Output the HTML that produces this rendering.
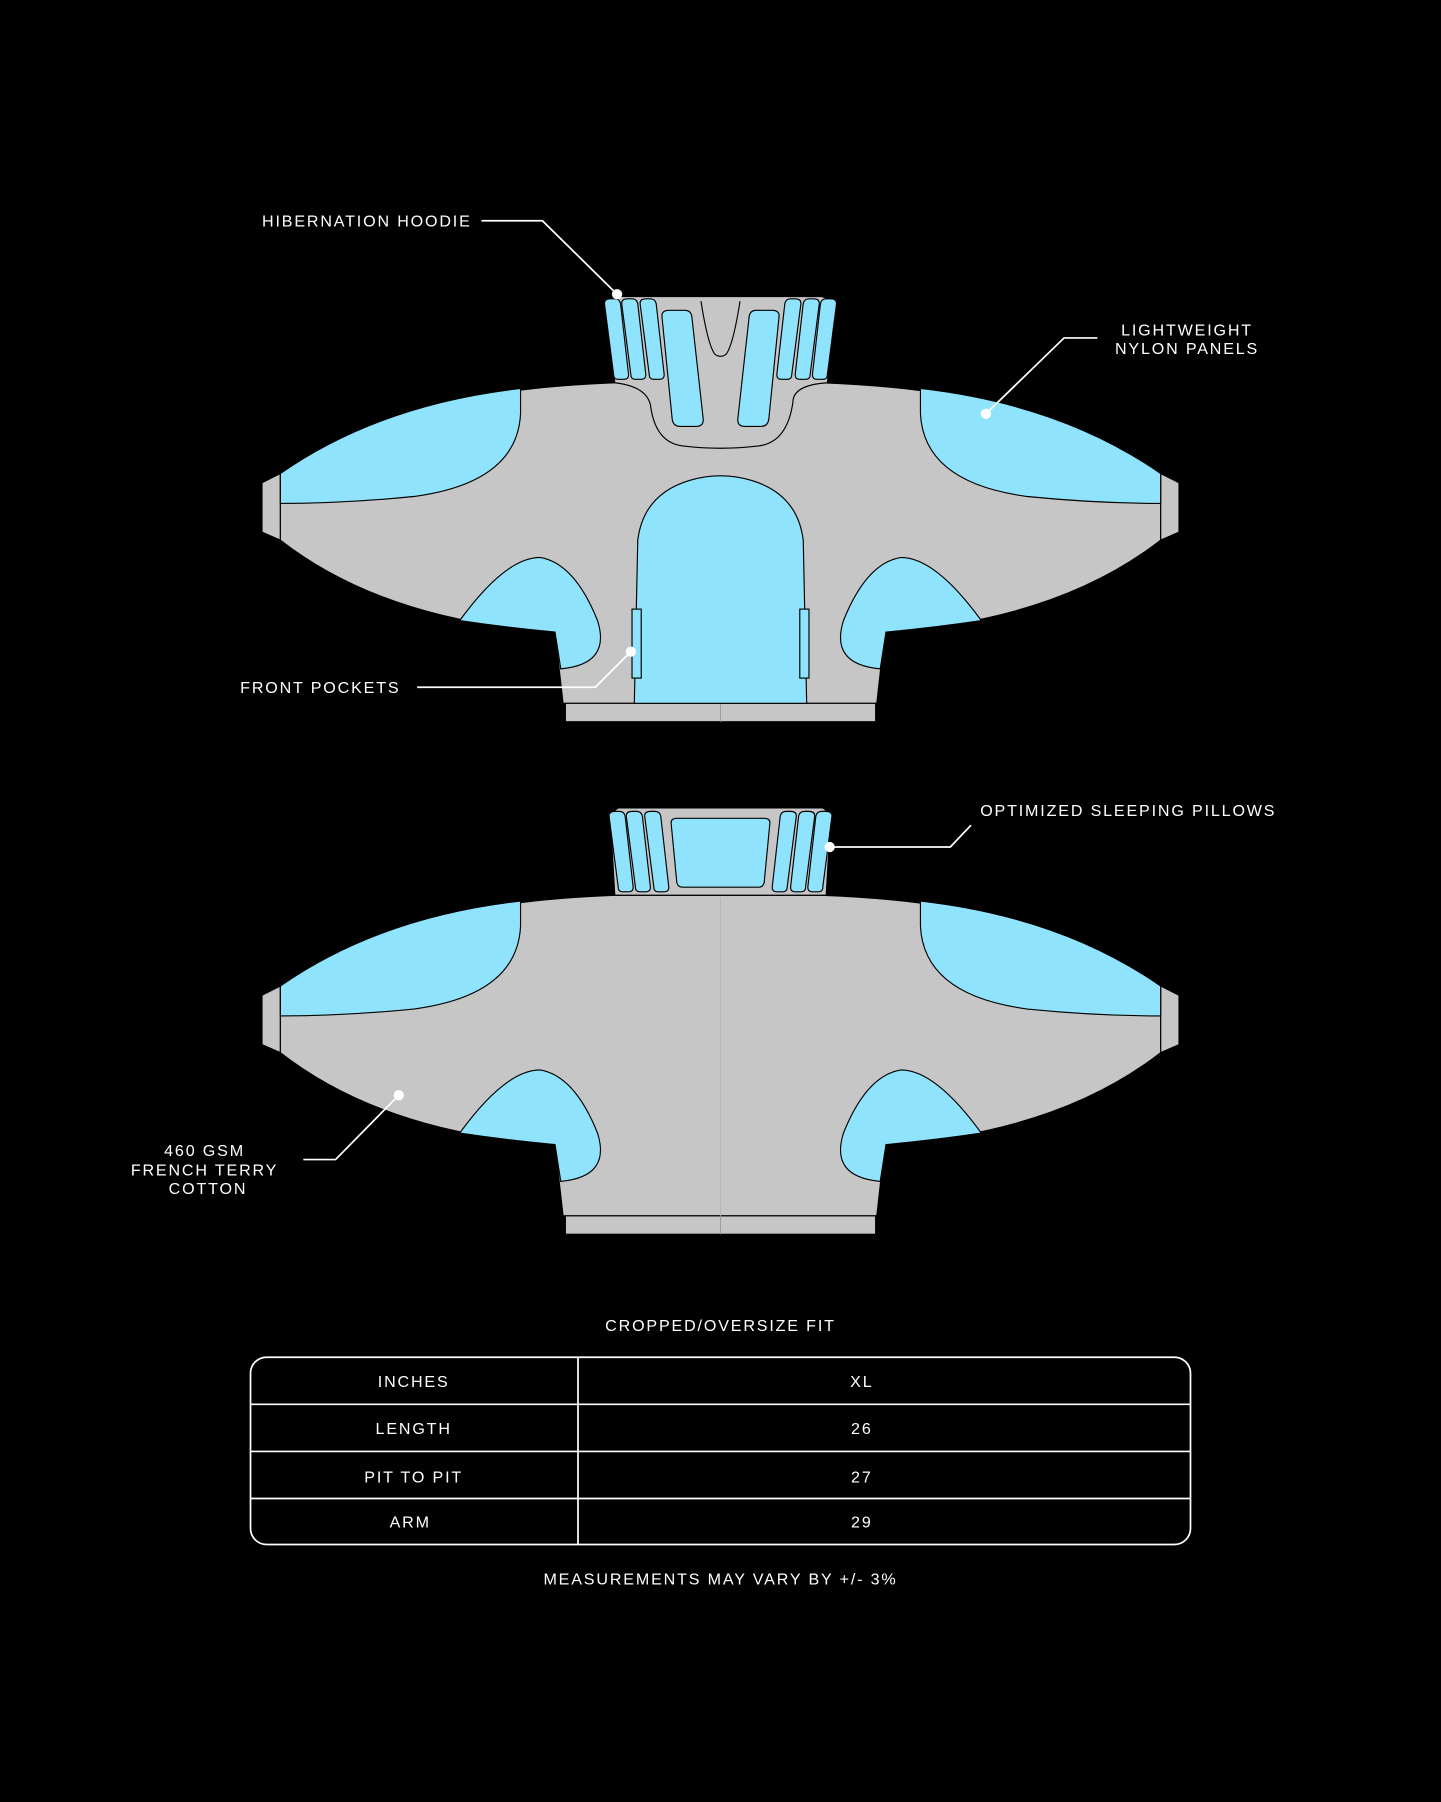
<!DOCTYPE html>
<html><head><meta charset="utf-8"><style>
html,body{margin:0;padding:0;background:#000;}
svg{display:block;}
text{font-family:"Liberation Sans",sans-serif;fill:#fff;font-size:14px;letter-spacing:1.6px;}
</style></head><body>
<svg width="1441" height="1802" viewBox="0 0 1254 1568" xmlns="http://www.w3.org/2000/svg">
<rect width="1254" height="1568" fill="#000"/>
<defs>
<g id="body">
  <!-- cuffs -->
  <path d="M228,420 L244,412 L244,470 L228,463 Z" fill="#c6c6c6" stroke="#000" stroke-width="1"/>
  <path d="M1026,420 L1010,412 L1010,470 L1026,463 Z" fill="#c6c6c6" stroke="#000" stroke-width="1"/>
  <!-- main body -->
  <path d="M244,412 Q340,340 535,333 L715,333 Q910,340 1010,412 L1010,470 Q920,540 770,550 L763,612 L490,612 L483,550 Q334,540 244,470 Z" fill="#c6c6c6" stroke="#000" stroke-width="1"/>
  <!-- hem -->
  <rect x="492" y="612" width="270" height="16" fill="#c6c6c6" stroke="#000" stroke-width="1"/>
  <line x1="627" y1="612" x2="627" y2="628" stroke="#999" stroke-width="0.8"/>
  <!-- shoulder panels -->
  <path d="M244,412 Q330,352 453,338 L453,360 Q450,420 360,432 Q300,438 244,438 Z" fill="#8fe3fd" stroke="#000" stroke-width="1"/>
  <path d="M1010,412 Q924,352 801,338 L801,360 Q804,420 894,432 Q954,438 1010,438 Z" fill="#8fe3fd" stroke="#000" stroke-width="1"/>
  <!-- armpit panels -->
  <path d="M400,540 Q440,485 470,485 Q500,490 520,540 Q532,578 488,582 L483,550 Q440,546 400,540 Z" fill="#8fe3fd" stroke="#000" stroke-width="1"/>
  <path d="M854,540 Q814,485 784,485 Q754,490 734,540 Q722,578 766,582 L771,550 Q814,546 854,540 Z" fill="#8fe3fd" stroke="#000" stroke-width="1"/>
</g>
<g id="strips">
  <path d="M526,264 Q526,260 531,260 L535,260 Q539,260 540,264 L547,326 Q547,330 543,330 L538,330 Q534,330 534,326 Z" fill="#8fe3fd" stroke="#000" stroke-width="1"/>
  <path d="M541,264 Q541,260 546,260 L550,260 Q554,260 555,264 L562,326 Q562,330 558,330 L553,330 Q549,330 549,326 Z" fill="#8fe3fd" stroke="#000" stroke-width="1"/>
  <path d="M557,264 Q557,260 562,260 L566,260 Q570,260 571,264 L578,326 Q578,330 574,330 L569,330 Q565,330 565,326 Z" fill="#8fe3fd" stroke="#000" stroke-width="1"/>
</g>
</defs>

<!-- TOP GARMENT -->
<use href="#body"/>
<!-- hood -->
<path d="M535,333 L527,262 L540,258 L715,258 L728,262 L720,333 Q690,335 690,350 Q685,385 660,388 Q627,392 594,388 Q570,385 566,352 Q562,336 535,333 Z" fill="#c6c6c6" stroke="#000" stroke-width="1"/>
<path d="M610,262 Q616,300 622,308 Q627,312 632,308 Q638,300 644,262" fill="none" stroke="#000" stroke-width="1"/>
<use href="#strips"/>
<use href="#strips" transform="translate(1254,0) scale(-1,1)"/>
<path d="M576,275 Q576,270 582,270 L596,270 Q601,270 602,275 L612,365 Q612,371 606,371 L592,371 Q586,371 585,365 Z" fill="#8fe3fd" stroke="#000" stroke-width="1"/>
<path d="M678,275 Q678,270 672,270 L658,270 Q653,270 652,275 L642,365 Q642,371 648,371 L662,371 Q668,371 669,365 Z" fill="#8fe3fd" stroke="#000" stroke-width="1"/>
<!-- center kangaroo panel -->
<path d="M552,612 L555,470 Q560,430 600,418 Q627,410 654,418 Q694,430 699,470 L702,612 Z" fill="#8fe3fd" stroke="#000" stroke-width="1"/>
<rect x="550" y="530" width="8" height="60" fill="#8fe3fd" stroke="#000" stroke-width="1"/>
<rect x="696" y="530" width="8" height="60" fill="#8fe3fd" stroke="#000" stroke-width="1"/>

<!-- BOTTOM GARMENT -->
<g transform="translate(0,446)">
  <use href="#body"/>
  <line x1="627" y1="335" x2="627" y2="612" stroke="#b5b5b5" stroke-width="0.8"/>
</g>
<path d="M535,779 L531,708 L538,703 L716,703 L723,708 L719,779 Z" fill="#c6c6c6" stroke="#000" stroke-width="1"/>
<g transform="translate(4,446)"><use href="#strips"/></g>
<g transform="translate(1250,446) scale(-1,1)"><use href="#strips"/></g>
<path d="M584,716 Q584,712 589,712 L665,712 Q670,712 670,716 L665,768 Q664,772 660,772 L594,772 Q590,772 589,768 Z" fill="#8fe3fd" stroke="#000" stroke-width="1"/>

<!-- LABELS -->
<g stroke="#fff" stroke-width="1.5" fill="none">
  <polyline points="419,192 472,192 537,256"/>
  <polyline points="955,294 926,294 858,360"/>
  <polyline points="363,598 518,598 549,567"/>
  <polyline points="845,718 827,737 722,737"/>
  <polyline points="264,1009 292,1009 347,953"/>
</g>
<g fill="#fff">
  <circle cx="537" cy="256" r="4.5"/>
  <circle cx="858" cy="360" r="4.5"/>
  <circle cx="549" cy="567" r="4.5"/>
  <circle cx="722" cy="737" r="4.5"/>
  <circle cx="347" cy="953" r="4.5"/>
</g>
<text x="228" y="197">HIBERNATION HOODIE</text>
<text x="1033" y="292" text-anchor="middle">LIGHTWEIGHT</text>
<text x="1033" y="308" text-anchor="middle">NYLON PANELS</text>
<text x="209" y="603">FRONT POCKETS</text>
<text x="853" y="710">OPTIMIZED SLEEPING PILLOWS</text>
<text x="178" y="1006" text-anchor="middle">460 GSM</text>
<text x="178" y="1023" text-anchor="middle">FRENCH TERRY</text>
<text x="181" y="1039" text-anchor="middle">COTTON</text>

<!-- TABLE -->
<text x="627" y="1158" text-anchor="middle">CROPPED/OVERSIZE FIT</text>
<rect x="218" y="1181" width="818" height="163" rx="14" fill="none" stroke="#fff" stroke-width="1.5"/>
<g stroke="#fff" stroke-width="1.5">
  <line x1="218" y1="1222" x2="1036" y2="1222"/>
  <line x1="218" y1="1263" x2="1036" y2="1263"/>
  <line x1="218" y1="1304" x2="1036" y2="1304"/>
  <line x1="503" y1="1181" x2="503" y2="1344"/>
</g>
<g style="font-size:16px">
<text x="360" y="1207" text-anchor="middle">INCHES</text>
<text x="750" y="1207" text-anchor="middle">XL</text>
<text x="360" y="1248" text-anchor="middle">LENGTH</text>
<text x="750" y="1248" text-anchor="middle">26</text>
<text x="360" y="1290" text-anchor="middle">PIT TO PIT</text>
<text x="750" y="1290" text-anchor="middle">27</text>
<text x="357" y="1329" text-anchor="middle">ARM</text>
<text x="750" y="1329" text-anchor="middle">29</text>
</g>
<text x="627" y="1379" text-anchor="middle">MEASUREMENTS MAY VARY BY +/- 3%</text>
</svg>
</body></html>
